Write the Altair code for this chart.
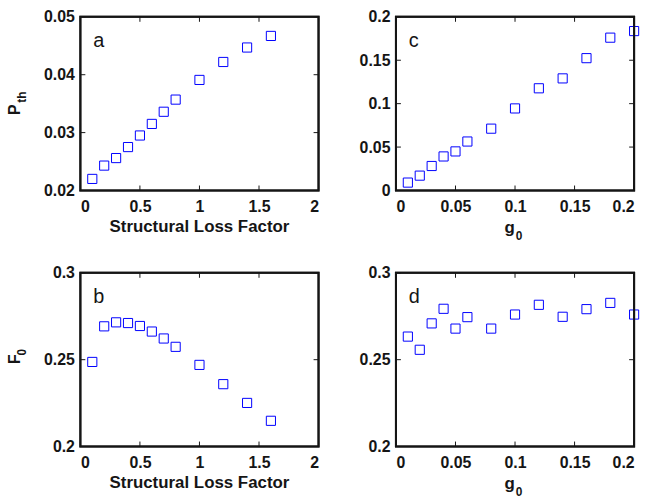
import altair as alt
import pandas as pd

# ---- data ----
loss_x = [0.1, 0.2, 0.3, 0.4, 0.5, 0.6, 0.7, 0.8, 1.0, 1.2, 1.4, 1.6]
a_pth = [0.0220, 0.0243, 0.0256, 0.0275, 0.0295, 0.0315, 0.0336, 0.0357, 0.0391, 0.0422, 0.0447, 0.0467]
b_f0 = [0.2487, 0.2692, 0.2715, 0.2711, 0.2694, 0.2662, 0.2622, 0.2574, 0.2470, 0.2359, 0.2251, 0.2148]

g0_x = [0.01, 0.02, 0.03, 0.04, 0.05, 0.06, 0.08, 0.10, 0.12, 0.14, 0.16, 0.18, 0.20]
c_pth = [0.0091, 0.0171, 0.0282, 0.0392, 0.0450, 0.0564, 0.0712, 0.0945, 0.1177, 0.1291, 0.1524, 0.1760, 0.1836]
d_f0 = [0.2633, 0.2557, 0.2709, 0.2793, 0.2679, 0.2745, 0.2679, 0.2760, 0.2816, 0.2747, 0.2791, 0.2827, 0.2760]

loss_ticks = [0, 0.5, 1, 1.5, 2]
g0_ticks = [0, 0.05, 0.1, 0.15, 0.2]
pth_a_ticks = [0.02, 0.03, 0.04, 0.05]
pth_c_ticks = [0, 0.05, 0.1, 0.15, 0.2]
f0_ticks = [0.2, 0.25, 0.3]

W, H = 240, 175
TK = 5
FONT = "Liberation Sans"
BLUE = "#0000ff"
INK = "#151515"


def txt(s, x, y, size, weight="bold", angle=0, align="center"):
    return alt.Chart(pd.DataFrame({"t": [s]})).mark_text(
        text=s, font=FONT, fontSize=size, fontWeight=weight, angle=angle,
        align=align, baseline="alphabetic", color=INK
    ).encode(x=alt.value(x), y=alt.value(y))


def panel(xs, ys, xdom, ydom, xt, yt, letter, texts):
    df = pd.DataFrame({"x": xs, "y": ys})
    xs_ = alt.Scale(domain=xdom, nice=False, zero=False)
    ys_ = alt.Scale(domain=ydom, nice=False, zero=False)
    common = dict(domain=False, grid=False, ticks=False, labelFont=FONT, labelFontSize=16,
                  labelFontWeight="bold", labelColor=INK, title=None, format="~g")
    pts = alt.Chart(df).mark_point(shape="square", filled=False, color=BLUE, size=85,
                                   strokeWidth=1, opacity=1).encode(
        x=alt.X("x:Q", scale=xs_, axis=alt.Axis(values=xt, labelPadding=8, **common)),
        y=alt.Y("y:Q", scale=ys_, axis=alt.Axis(values=yt, labelPadding=6, **common)),
    )
    # frame drawn from the axis extents through the scales
    box = pd.DataFrame({"x0": [xdom[0]], "x1": [xdom[1]], "y0": [ydom[0]], "y1": [ydom[1]]})
    frame = alt.Chart(box).mark_rect(filled=False, stroke=INK, strokeWidth=2, color=INK).encode(
        x=alt.X("x0:Q", scale=xs_), x2="x1:Q", y=alt.Y("y0:Q", scale=ys_), y2="y1:Q")
    xtd = pd.DataFrame({"v": xt})
    ytd = pd.DataFrame({"v": yt})
    xtick = alt.X("v:Q", scale=xs_)
    ytick = alt.Y("v:Q", scale=ys_)
    tb = alt.Chart(xtd).mark_rule(color=INK, strokeWidth=1).encode(
        x=xtick, y=alt.value(H), y2=alt.value(H - TK))
    tt = alt.Chart(xtd).mark_rule(color=INK, strokeWidth=1).encode(
        x=xtick, y=alt.value(0), y2=alt.value(TK))
    tl = alt.Chart(ytd).mark_rule(color=INK, strokeWidth=1).encode(
        y=ytick, x=alt.value(0), x2=alt.value(TK))
    tr = alt.Chart(ytd).mark_rule(color=INK, strokeWidth=1).encode(
        y=ytick, x=alt.value(W), x2=alt.value(W - TK))
    layers = [pts, frame, tb, tt, tl, tr,
              txt(letter, 13, 30, 20, weight="normal", align="left")] + texts
    return alt.layer(*layers).properties(width=W, height=H)


pa = panel(loss_x, a_pth, [0, 2], [0.02, 0.05], loss_ticks, pth_a_ticks, "a", [
    txt("Structural Loss Factor", 120, 217, 17),
    txt("P", -60.5, 93.5, 16, angle=270),
    txt("th", -55, 81, 12, angle=270),
])
pc = panel(g0_x, c_pth, [0, 0.2], [0, 0.2], g0_ticks, pth_c_ticks, "c", [
    txt("g", 114.5, 218, 17),
    txt("0", 124, 225, 12),
])
pb = panel(loss_x, b_f0, [0, 2], [0.2, 0.3], loss_ticks, f0_ticks, "b", [
    txt("Structural Loss Factor", 120, 217, 17),
    txt("F", -61, 87, 16, angle=270),
    txt("0", -55, 80, 12, angle=270),
])
pd_ = panel(g0_x, d_f0, [0, 0.2], [0.2, 0.3], g0_ticks, f0_ticks, "d", [
    txt("g", 114.5, 218, 17),
    txt("0", 124, 225, 12),
])

chart = alt.concat(
    pa, pc, pb, pd_, columns=2,
    spacing=alt.RowColnumber(row=21, column=37),
).properties(
    padding=6,
).configure_view(
    stroke=INK, strokeWidth=2
)

chart.save("out.html", embed_options={"renderer": "svg", "actions": False})
